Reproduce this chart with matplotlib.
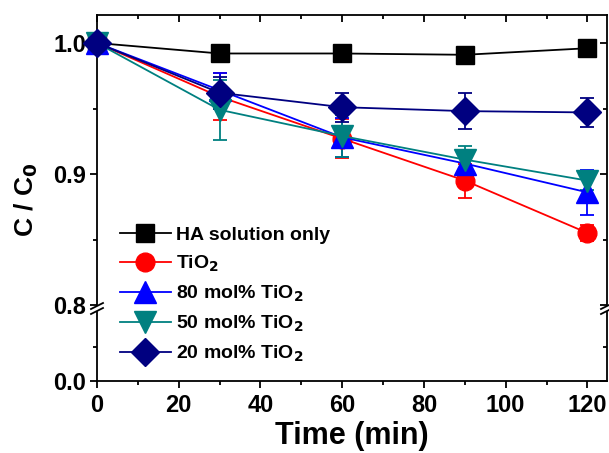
import matplotlib
matplotlib.use("Agg")
import matplotlib.pyplot as plt
from matplotlib.ticker import MultipleLocator, FixedLocator
from matplotlib.lines import Line2D

plt.rcParams['font.family'] = ['Liberation Sans', 'DejaVu Sans']
plt.rcParams['font.weight'] = 'bold'
plt.rcParams['mathtext.default'] = 'bf'

time = [0, 30, 60, 90, 120]
labels = ["HA solution only", "TiO$_2$", "80 mol% TiO$_2$", "50 mol% TiO$_2$", "20 mol% TiO$_2$"]
ha = [1.0, 0.992, 0.992, 0.991, 0.996]
ha_err = [0, 0, 0, 0, 0]
tio2 = [1.0, 0.959, 0.927, 0.895, 0.855]
tio2_err = [0, 0.018, 0.015, 0.013, 0.006]
m80 = [1.0, 0.964, 0.928, 0.908, 0.886]
m80_err = [0, 0.013, 0.015, 0.010, 0.017]
m50 = [1.0, 0.949, 0.929, 0.911, 0.895]
m50_err = [0, 0.023, 0.016, 0.010, 0.007]
m20 = [1.0, 0.962, 0.951, 0.948, 0.947]
m20_err = [0, 0.012, 0.011, 0.014, 0.011]
xticks = [0, 20, 40, 60, 80, 100, 120]
xticklabels = ['0', '20', '40', '60', '80', '100', '120']

series = [
    (ha, ha_err, 'black', 's', 12.5),
    (tio2, tio2_err, '#ff0000', 'o', 13.5),
    (m80, m80_err, '#0000ff', '^', 16),
    (m50, m50_err, '#008080', 'v', 16),
    (m20, m20_err, '#000080', 'D', 14),
]

W, H = 609, 453
fig = plt.figure(figsize=(W / 100, H / 100), dpi=100)
L, R = 97, 607
top_px, brk_up, brk_lo, bot_px = 15, 305, 312, 381
ax = fig.add_axes([L / W, (H - brk_up) / H, (R - L) / W, (brk_up - top_px) / H])
axl = fig.add_axes([L / W, (H - bot_px) / H, (R - L) / W, (bot_px - brk_lo) / H])

xmax = 124.8
ymax = 0.8 + (brk_up - top_px) / 1310
for a in (ax, axl):
    a.set_xlim(0, xmax)
    for sp in a.spines.values():
        sp.set_linewidth(1.3)
ax.set_ylim(0.8, ymax)
axl.set_ylim(0.0, 0.8)

handles = []
for vals, err, c, m, ms in series:
    ax.errorbar(time, vals, yerr=err, color=c, marker=m, markersize=ms,
                linewidth=1.3, elinewidth=1.3, capsize=5, capthick=1.3,
                clip_on=False, zorder=3)
    handles.append(Line2D([], [], color=c, marker=m, markersize=ms, linewidth=1.3))

ax.spines['bottom'].set_visible(False)
axl.spines['top'].set_visible(False)

FS = 17
ax.yaxis.set_major_locator(FixedLocator([0.8, 0.9, 1.0]))
ax.yaxis.set_minor_locator(FixedLocator([0.85, 0.95]))
ax.xaxis.set_major_locator(FixedLocator(xticks))
ax.xaxis.set_minor_locator(MultipleLocator(10))
ax.tick_params(axis='x', which='both', bottom=False, labelbottom=False, top=True, direction='in')
ax.tick_params(axis='y', which='both', left=True, right=True, direction='out')
ax.tick_params(which='major', length=5, width=1.3)
ax.tick_params(which='minor', length=3, width=1.3)
ax.set_yticklabels(['0.8', '0.9', '1.0'])

axl.yaxis.set_major_locator(FixedLocator([0.0]))
axl.yaxis.set_minor_locator(FixedLocator([0.4]))
axl.set_xticks(xticks)
axl.set_xticklabels(xticklabels)
axl.xaxis.set_minor_locator(MultipleLocator(10))
axl.tick_params(which='both', direction='out', right=True, width=1.3)
axl.tick_params(which='major', length=5)
axl.tick_params(which='minor', length=3)
axl.set_yticklabels(['0.0'])
axl.tick_params(axis='x', pad=4)
axl.tick_params(axis='y', pad=3)
ax.tick_params(axis='y', pad=3)

for a in (ax, axl):
    for t in a.yaxis.get_major_ticks() + a.yaxis.get_minor_ticks():
        t.tick2line.set_marker(matplotlib.lines.TICKLEFT)
for lab in ax.get_yticklabels() + axl.get_yticklabels() + axl.get_xticklabels():
    lab.set_fontweight('bold')
    lab.set_fontsize(FS)

axl.set_xlabel('Time (min)', fontsize=22, fontweight='bold', labelpad=3)
fig.text(26 / W, (H - 200) / H, 'C / C$_0$', rotation=90, fontsize=19,
         fontweight='bold', ha='center', va='center')

# break marks
for xp in (L, R):
    for dy in (0, 5):
        y0 = H - (brk_up + 1 + dy)
        fig.add_artist(Line2D([(xp - 6) / W, (xp + 6) / W],
                              [(y0 - 3) / H, (y0 + 3) / H],
                              color='black', linewidth=1.3, transform=fig.transFigure))

leg = fig.legend(handles, labels, loc='upper left', bbox_to_anchor=(120 / W, (H - 226) / H),
                 frameon=False, fontsize=14, handlelength=2.6, handletextpad=0.3,
                 labelspacing=0.5, borderaxespad=0, borderpad=0)
for t in leg.get_texts():
    t.set_fontweight('bold')

fig.savefig('out.png', dpi=100)
